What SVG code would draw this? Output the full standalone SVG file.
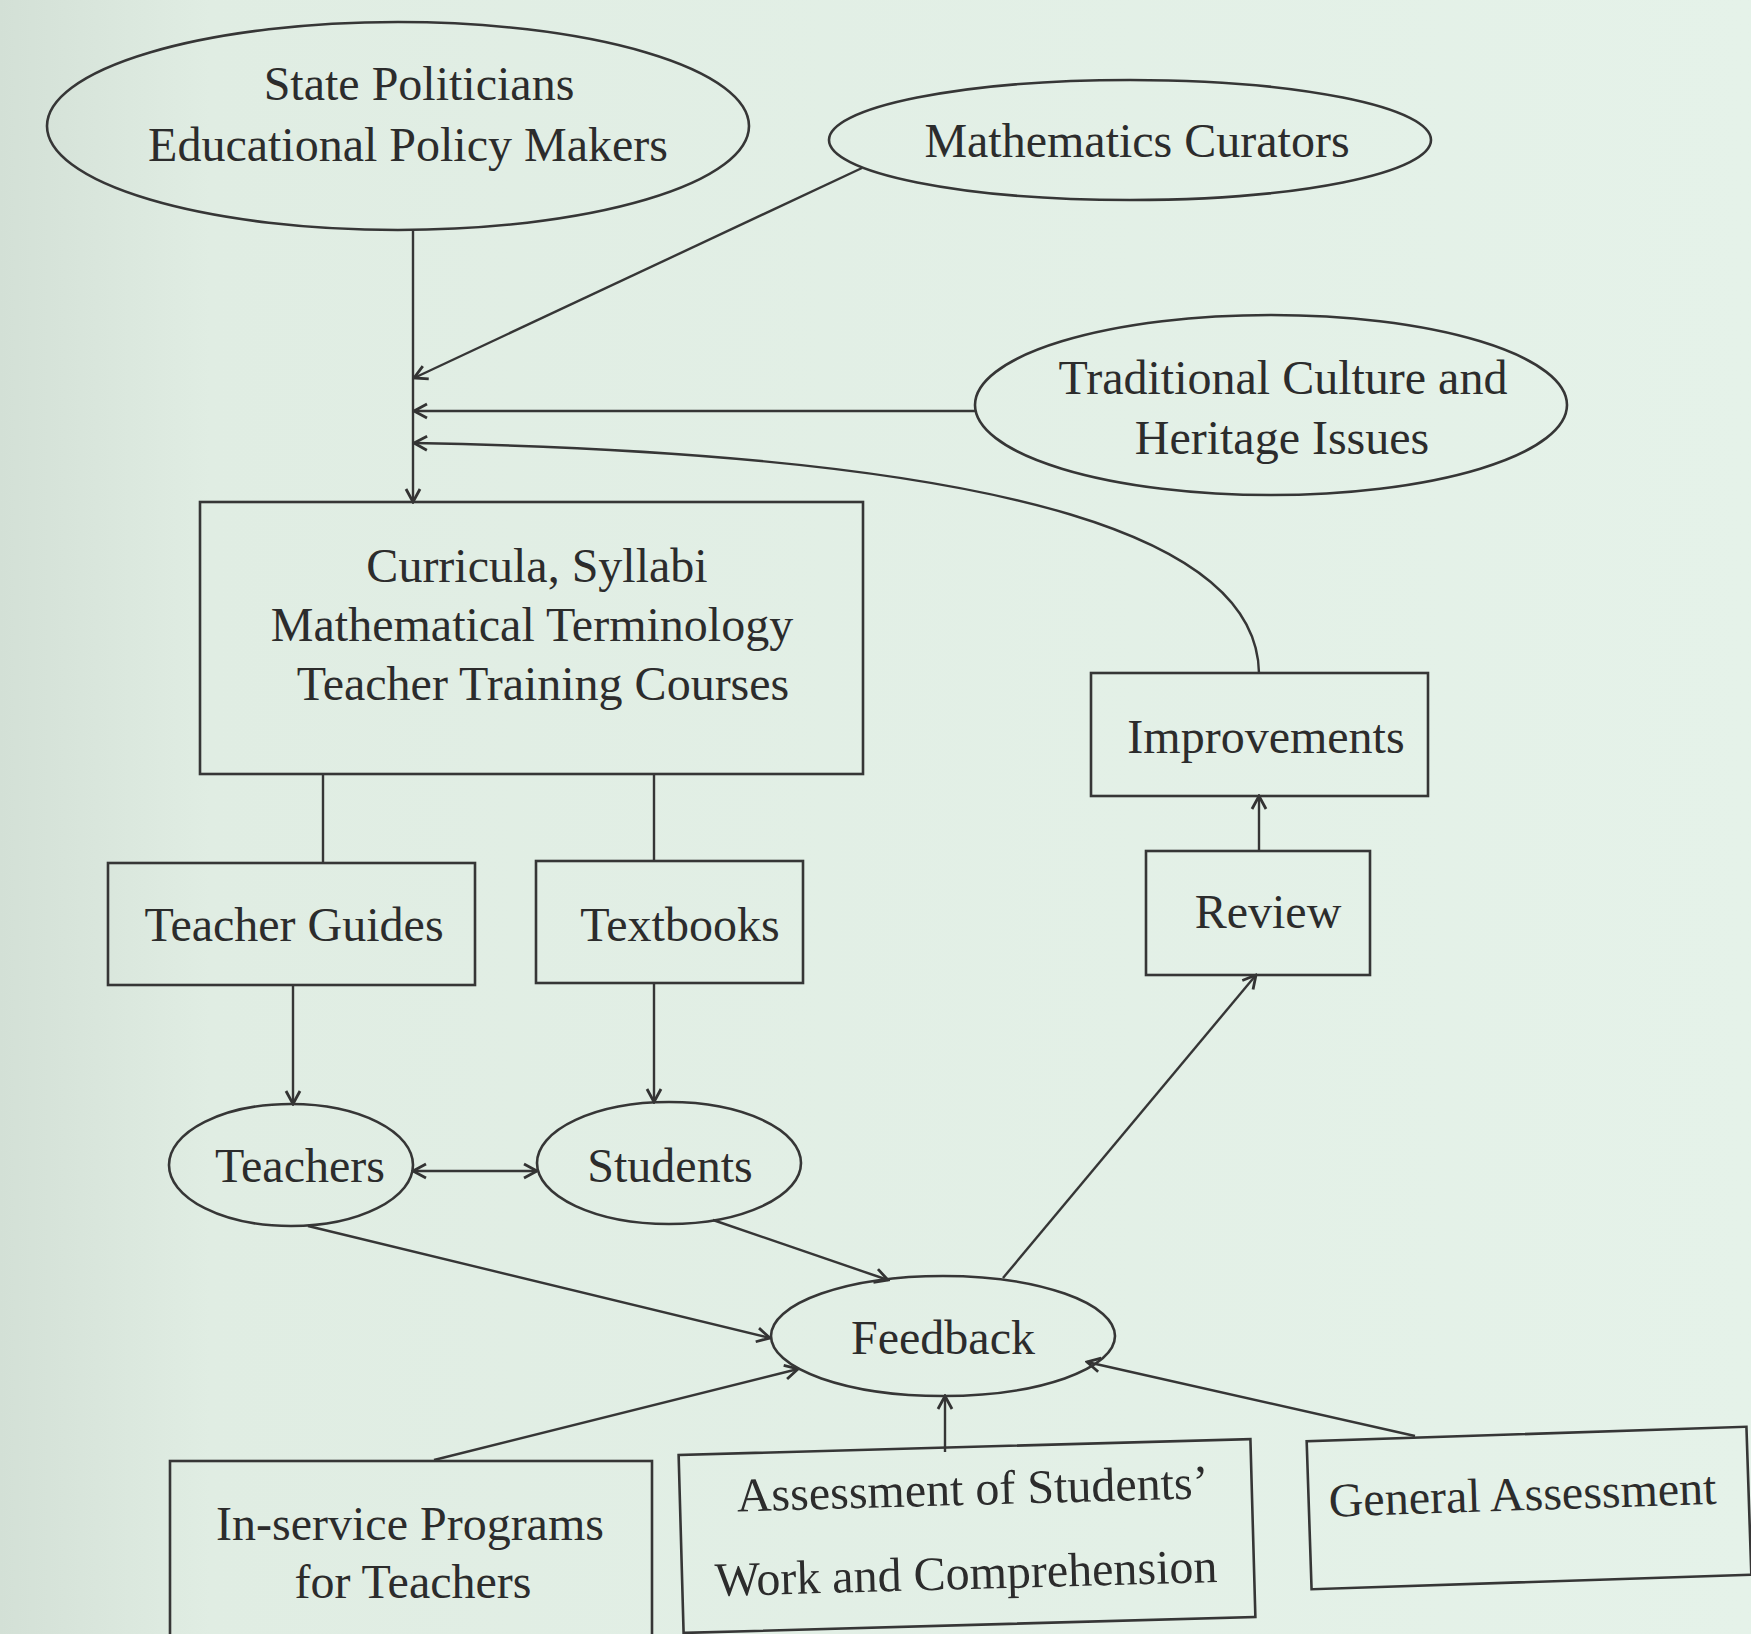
<svg xmlns="http://www.w3.org/2000/svg" width="1751" height="1634" viewBox="0 0 1751 1634">
<defs>
<linearGradient id="bg" x1="0" y1="0" x2="1" y2="0">
<stop offset="0" stop-color="#d3e0d6"/>
<stop offset="0.12" stop-color="#e0ede3"/>
<stop offset="1" stop-color="#e5f2e9"/>
</linearGradient>
<marker id="ah" viewBox="-16 -9 18 18" refX="0" refY="0" markerWidth="18" markerHeight="18" markerUnits="userSpaceOnUse" orient="auto-start-reverse">
<path d="M-13,-7 L0,0 L-13,7" fill="none" stroke="#333" stroke-width="2.8"/>
</marker>
<style>
.shape{fill:none;stroke:#363636;stroke-width:2.6}
.conn{fill:none;stroke:#363636;stroke-width:2.4}
text{font-family:"Liberation Serif","Times New Roman",serif;font-size:48px;fill:#2c2c2c;text-anchor:middle}
</style>
</defs>
<rect x="0" y="0" width="1751" height="1634" fill="url(#bg)"/>
<g id="connectors">
<path class="conn" d="M413 230 L413 502" marker-end="url(#ah)"/>
<path class="conn" d="M862 168 L414 378" marker-end="url(#ah)"/>
<path class="conn" d="M975 411 L414 411" marker-end="url(#ah)"/>
<path class="conn" d="M1259 673 C1257 545 1040 455 414 443" marker-end="url(#ah)"/>
<path class="conn" d="M323 774 L323 863"/>
<path class="conn" d="M654 774 L654 861"/>
<path class="conn" d="M293 985 L293 1104" marker-end="url(#ah)"/>
<path class="conn" d="M654 983 L654 1102" marker-end="url(#ah)"/>
<path class="conn" d="M413 1171 L537 1171" marker-start="url(#ah)" marker-end="url(#ah)"/>
<path class="conn" d="M308 1226 L770 1338" marker-end="url(#ah)"/>
<path class="conn" d="M713 1220 L888 1280" marker-end="url(#ah)"/>
<path class="conn" d="M434 1460 L798 1369" marker-end="url(#ah)"/>
<path class="conn" d="M945 1452 L945 1396" marker-end="url(#ah)"/>
<path class="conn" d="M1415 1436 L1087 1362" marker-end="url(#ah)"/>
<path class="conn" d="M1003 1278 L1256 975" marker-end="url(#ah)"/>
<path class="conn" d="M1259 851 L1259 796" marker-end="url(#ah)"/>
</g>
<g id="state">
<ellipse class="shape" cx="398" cy="126" rx="351" ry="104"/>
<text x="419" y="100">State Politicians</text>
<text x="408" y="161">Educational Policy Makers</text>
</g>
<g id="curators">
<ellipse class="shape" cx="1130" cy="140" rx="301" ry="60"/>
<text x="1137" y="157">Mathematics Curators</text>
</g>
<g id="tradition">
<ellipse class="shape" cx="1271" cy="405" rx="296" ry="90"/>
<text x="1283" y="394">Traditional Culture and</text>
<text x="1282" y="454">Heritage Issues</text>
</g>
<g id="curricula">
<rect class="shape" x="200" y="502" width="663" height="272"/>
<text x="537" y="582">Curricula, Syllabi</text>
<text x="532" y="641">Mathematical Terminology</text>
<text x="543" y="700">Teacher Training Courses</text>
</g>
<g id="guides">
<rect class="shape" x="108" y="863" width="367" height="122"/>
<text x="294" y="941">Teacher Guides</text>
</g>
<g id="textbooks">
<rect class="shape" x="536" y="861" width="267" height="122"/>
<text x="680" y="941">Textbooks</text>
</g>
<g id="teachers">
<ellipse class="shape" cx="291" cy="1165" rx="122" ry="61"/>
<text x="300" y="1182">Teachers</text>
</g>
<g id="students">
<ellipse class="shape" cx="669" cy="1163" rx="132" ry="61"/>
<text x="670" y="1182">Students</text>
</g>
<g id="improvements">
<rect class="shape" x="1091" y="673" width="337" height="123"/>
<text x="1266" y="753">Improvements</text>
</g>
<g id="review">
<rect class="shape" x="1146" y="851" width="224" height="124"/>
<text x="1268" y="928">Review</text>
</g>
<g id="feedback">
<ellipse class="shape" cx="943" cy="1336" rx="172" ry="60"/>
<text x="943" y="1354">Feedback</text>
</g>
<g id="inservice">
<rect class="shape" x="170" y="1461" width="482" height="200"/>
<text x="410" y="1540">In-service Programs</text>
<text x="413" y="1598">for Teachers</text>
</g>
<g id="assessment" transform="rotate(-1.6 967 1536)">
<rect class="shape" x="681" y="1447" width="572" height="178"/>
<text x="974" y="1505">Assessment of Students’</text>
<text x="965" y="1589">Work and Comprehension</text>
</g>
<g id="general" transform="rotate(-1.9 1529 1508)">
<rect class="shape" x="1309" y="1434" width="440" height="148"/>
<text x="1523" y="1510">General Assessment</text>
</g>
</svg>
